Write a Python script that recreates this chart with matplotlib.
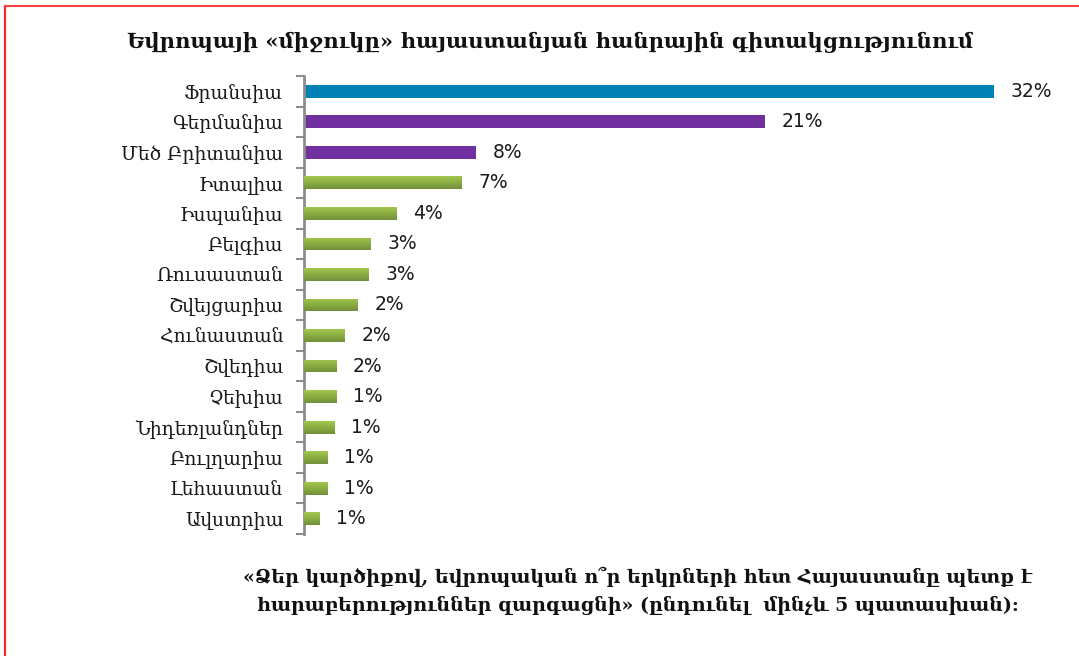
import matplotlib
matplotlib.use("Agg")
import matplotlib.pyplot as plt
import numpy as np
from matplotlib.lines import Line2D
from matplotlib.colors import LinearSegmentedColormap

countries = ["Ֆրանսիա", "Գերմանիա", "Մեծ Բրիտանիա", "Իտալիա", "Իսպանիա", "Բելգիա",
             "Ռուսաստան", "Շվեյցարիա", "Հունաստան", "Շվեդիա", "Չեխիա", "Նիդեռլանդներ",
             "Բուլղարիա", "Լեհաստան", "Ավստրիա"]
values = [32.0, 21.4, 8.0, 7.3, 4.3, 3.1, 3.0, 2.5, 1.9, 1.5, 1.5, 1.4, 1.1, 1.1, 0.7]
value_labels = ["32%", "21%", "8%", "7%", "4%", "3%", "3%", "2%", "2%", "2%", "1%", "1%", "1%", "1%", "1%"]
bar_kind = ["blue", "purple", "purple"] + ["green"] * 12

title = "Եվրոպայի «միջուկը» հայաստանյան հանրային գիտակցությունում"
note = ("«Ձեր կարծիքով, եվրոպական ո՞ր երկրների հետ Հայաստանը պետք է\n"
        "հարաբերություններ զարգացնի» (ընդունել  մինչև 5 պատասխան):")

serif = ["DejaVu Serif", "DejaVu Sans"]

fig = plt.figure(figsize=(10.79, 6.56), dpi=100)
W, H = 1079, 656
ax_left, ax_right = 304, 1037
ax_top, ax_bottom = 76, 534
ax = fig.add_axes([ax_left / W, 1 - ax_bottom / H, (ax_right - ax_left) / W, (ax_bottom - ax_top) / H])

n = len(countries)
y = np.arange(n)
colors = {"blue": "#0083b4", "purple": "#7030a0", "green": "#8db443"}
bh = 0.42
bars = ax.barh(y, values, height=bh, color=[colors[k] for k in bar_kind], zorder=2)

cmap = LinearSegmentedColormap.from_list("g", ["#a2c84c", "#72903a"])
grad = np.linspace(0, 1, 64).reshape(-1, 1)
for b, k in zip(bars, bar_kind):
    if k != "green":
        continue
    x0, yy, w, h = b.get_x(), b.get_y(), b.get_width(), b.get_height()
    im = ax.imshow(grad, cmap=cmap, aspect="auto", extent=(x0, x0 + w, yy + h, yy),
                   origin="upper", zorder=3)
    im.set_clip_path(b)
ax.set_xlim(0, 34)
ax.set_ylim(n - 0.5, -0.5)

for b, lab in zip(bars, value_labels):
    ax.annotate(lab, (b.get_width(), b.get_y() + b.get_height() / 2), xytext=(12, 0),
                textcoords="offset points", va="center", ha="left", fontsize=13.5,
                color="#1a1a1a", family="DejaVu Sans")

ax.set_yticks(y)
ax.set_yticklabels(countries, family=serif, fontsize=13.5, color="#1a1a1a")
ax.set_yticks(np.arange(-0.5, n, 1), minor=True)
ax.tick_params(axis="y", which="major", length=0, pad=15)
ax.tick_params(axis="y", which="minor", length=6, width=1.5, color="#8c8c8c")
ax.set_xticks([])
for s in ["top", "right", "bottom"]:
    ax.spines[s].set_visible(False)
ax.spines["left"].set_color("#8c8c8c")
ax.spines["left"].set_linewidth(2)

fig.text(550 / W, 1 - 42 / H, title, ha="center", va="center", fontsize=15.2,
         fontweight="bold", family=serif, color="#111111")
fig.text(638 / W, 1 - 591 / H, note, ha="center", va="center", fontsize=13.7,
         fontweight="bold", family=serif, color="#111111", linespacing=1.6)

# red frame (left and top edges)
fig.add_artist(Line2D([5 / W, 5 / W], [0, 1 - 6 / H], color="#ff2020", lw=1.5,
                      transform=fig.transFigure))
fig.add_artist(Line2D([5 / W, 1], [1 - 6 / H, 1 - 6 / H], color="#ff4040", lw=1.5,
                      transform=fig.transFigure))

fig.savefig("out.png", dpi=100)
